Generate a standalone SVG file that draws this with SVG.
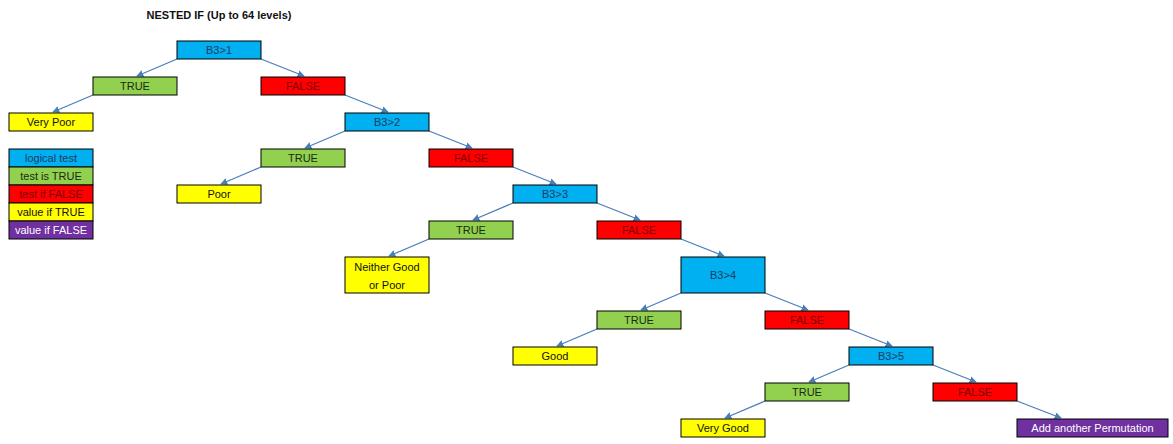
<svg xmlns="http://www.w3.org/2000/svg" width="1173" height="444" viewBox="0 0 1173 444">
<style>
rect{stroke:#000;stroke-width:1}
rect.bg{stroke:none;fill:#fff}
.b{fill:#00B0F0}.g{fill:#92D050}.r{fill:#FF0000}.y{fill:#FFFF00}.p{fill:#7030A0}
text{font-family:"Liberation Sans",Arial,sans-serif;font-size:11px;text-anchor:middle}
.tb{fill:#1F3A60}.tg{fill:#1A2A10}.tr{fill:#800000}.ty{fill:#111}.tp{fill:#fff}
.c line{stroke:#4A7EBB;stroke-width:1.3;marker-end:url(#a)}
</style>
<defs>
<marker id="a" viewBox="0 0 10 10" refX="9" refY="5" markerWidth="7" markerHeight="7" orient="auto" markerUnits="userSpaceOnUse"><path d="M0,0L10,5L0,10z" fill="#4A7EBB"/></marker>
</defs>
<rect class="bg" width="1173" height="444"/>
<text x="219" y="19" style="font-weight:bold;fill:#111">NESTED IF (Up to 64 levels)</text>
<g class="c">
<line x1="177" y1="59" x2="137" y2="76"/>
<line x1="261" y1="59" x2="304" y2="76"/>
<line x1="93" y1="95" x2="53" y2="112"/>
<line x1="345" y1="95" x2="388" y2="112"/>
<line x1="345" y1="131" x2="305" y2="148"/>
<line x1="429" y1="131" x2="472" y2="148"/>
<line x1="261" y1="167" x2="221" y2="184"/>
<line x1="513" y1="167" x2="556" y2="184"/>
<line x1="513" y1="203" x2="473" y2="220"/>
<line x1="597" y1="203" x2="640" y2="220"/>
<line x1="429" y1="239" x2="389" y2="256"/>
<line x1="681" y1="239" x2="724" y2="256"/>
<line x1="681" y1="293" x2="641" y2="310"/>
<line x1="765" y1="293" x2="808" y2="310"/>
<line x1="597" y1="329" x2="557" y2="346"/>
<line x1="849" y1="329" x2="892" y2="346"/>
<line x1="849" y1="365" x2="809" y2="382"/>
<line x1="933" y1="365" x2="976" y2="382"/>
<line x1="765" y1="401" x2="725" y2="418"/>
<line x1="1017" y1="401" x2="1061" y2="418"/>
</g>
<g id="legend">
<rect class="b" x="9" y="149" width="84" height="18"/><text class="tb" x="51" y="162">logical test</text>
<rect class="g" x="9" y="167" width="84" height="18"/><text class="tg" x="51" y="180">test is TRUE</text>
<rect class="r" x="9" y="185" width="84" height="18"/><text class="tr" x="51" y="198">test if FALSE</text>
<rect class="y" x="9" y="203" width="84" height="18"/><text class="ty" x="51" y="216">value if TRUE</text>
<rect class="p" x="9" y="221" width="84" height="18"/><text class="tp" x="51" y="234">value if FALSE</text>
</g>
<g id="n1"><rect class="b" x="177" y="41" width="84" height="18"/><text class="tb" x="219" y="54">B3&gt;1</text></g>
<g id="t1"><rect class="g" x="93" y="77" width="84" height="18"/><text class="tg" x="135" y="90">TRUE</text></g>
<g id="f1"><rect class="r" x="261" y="77" width="84" height="18"/><text class="tr" x="303" y="90">FALSE</text></g>
<g id="v1"><rect class="y" x="9" y="113" width="84" height="18"/><text class="ty" x="51" y="126">Very Poor</text></g>
<g id="n2"><rect class="b" x="345" y="113" width="84" height="18"/><text class="tb" x="387" y="126">B3&gt;2</text></g>
<g id="t2"><rect class="g" x="261" y="149" width="84" height="18"/><text class="tg" x="303" y="162">TRUE</text></g>
<g id="f2"><rect class="r" x="429" y="149" width="84" height="18"/><text class="tr" x="471" y="162">FALSE</text></g>
<g id="v2"><rect class="y" x="177" y="185" width="84" height="18"/><text class="ty" x="219" y="198">Poor</text></g>
<g id="n3"><rect class="b" x="513" y="185" width="84" height="18"/><text class="tb" x="555" y="198">B3&gt;3</text></g>
<g id="t3"><rect class="g" x="429" y="221" width="84" height="18"/><text class="tg" x="471" y="234">TRUE</text></g>
<g id="f3"><rect class="r" x="597" y="221" width="84" height="18"/><text class="tr" x="639" y="234">FALSE</text></g>
<g id="v3"><rect class="y" x="345" y="257" width="84" height="36"/><text class="ty" x="387" y="271">Neither Good</text><text class="ty" x="387" y="289">or Poor</text></g>
<g id="n4"><rect class="b" x="681" y="257" width="84" height="36"/><text class="tb" x="723" y="279">B3&gt;4</text></g>
<g id="t4"><rect class="g" x="597" y="311" width="84" height="18"/><text class="tg" x="639" y="324">TRUE</text></g>
<g id="f4"><rect class="r" x="765" y="311" width="84" height="18"/><text class="tr" x="807" y="324">FALSE</text></g>
<g id="v4"><rect class="y" x="513" y="347" width="84" height="18"/><text class="ty" x="555" y="360">Good</text></g>
<g id="n5"><rect class="b" x="849" y="347" width="84" height="18"/><text class="tb" x="891" y="360">B3&gt;5</text></g>
<g id="t5"><rect class="g" x="765" y="383" width="84" height="18"/><text class="tg" x="807" y="396">TRUE</text></g>
<g id="f5"><rect class="r" x="933" y="383" width="84" height="18"/><text class="tr" x="975" y="396">FALSE</text></g>
<g id="v5"><rect class="y" x="681" y="419" width="84" height="18"/><text class="ty" x="723" y="432">Very Good</text></g>
<g id="v6"><rect class="p" x="1017" y="419" width="151" height="18"/><text class="tp" x="1092.500" y="432">Add another Permutation</text></g>
</svg>
